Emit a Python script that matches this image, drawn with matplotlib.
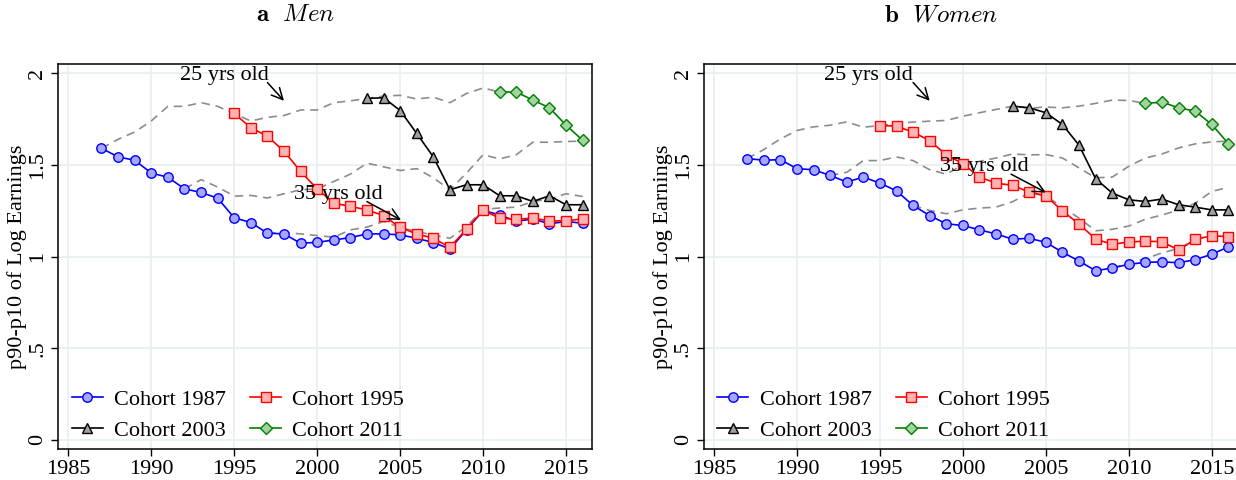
import matplotlib
matplotlib.use("Agg")
import matplotlib.pyplot as plt
import numpy as np

plt.rcParams['font.family'] = ['Liberation Serif', 'DejaVu Serif']
plt.rcParams['mathtext.fontset'] = 'cm'

# ---- data ----
years_c87 = list(range(1987, 2017))
years_c95 = list(range(1995, 2017))
years_c03 = list(range(2003, 2017))
years_c11 = list(range(2011, 2017))
years_a25 = list(range(1987, 2012))
years_a30 = list(range(1992, 2017))
years_a35 = list(range(1997, 2017))
years_w_extra = list(range(2009, 2015))

men_c87 = [1.591, 1.544, 1.526, 1.456, 1.433, 1.370, 1.350, 1.319, 1.212, 1.186,
           1.128, 1.124, 1.073, 1.078, 1.091, 1.104, 1.124, 1.124, 1.119, 1.100,
           1.077, 1.042, 1.146, 1.252, 1.228, 1.192, 1.206, 1.179, 1.192, 1.182]
men_c95 = [1.781, 1.703, 1.657, 1.575, 1.465, 1.369, 1.292, 1.274, 1.255, 1.224,
           1.159, 1.124, 1.100, 1.051, 1.150, 1.252, 1.210, 1.204, 1.210, 1.195,
           1.195, 1.206]
men_c03 = [1.863, 1.867, 1.797, 1.672, 1.544, 1.365, 1.392, 1.392, 1.332, 1.332,
           1.301, 1.332, 1.283, 1.283]
men_c11 = [1.898, 1.898, 1.854, 1.812, 1.717, 1.635]
men_a25 = [1.591, 1.64, 1.68, 1.74, 1.82, 1.82, 1.84, 1.82, 1.78, 1.74, 1.76, 1.77,
           1.80, 1.80, 1.84, 1.85, 1.863, 1.876, 1.88, 1.86, 1.87, 1.84, 1.89, 1.92,
           1.898]
men_a30 = [1.370, 1.42, 1.38, 1.33, 1.334, 1.32, 1.343, 1.365, 1.369, 1.41, 1.45,
           1.51, 1.49, 1.47, 1.48, 1.43, 1.365, 1.456, 1.556, 1.533, 1.556, 1.624,
           1.624, 1.628, 1.63]
men_a35 = [1.128, 1.131, 1.124, 1.115, 1.106, 1.146, 1.161, 1.192, 1.159, 1.137,
           1.117, 1.100, 1.164, 1.259, 1.265, 1.27, 1.30, 1.314, 1.343, 1.328]

women_c87 = [1.535, 1.526, 1.529, 1.480, 1.474, 1.443, 1.407, 1.434, 1.401, 1.359,
             1.279, 1.224, 1.179, 1.170, 1.146, 1.124, 1.095, 1.100, 1.078, 1.024,
             0.976, 0.923, 0.938, 0.958, 0.969, 0.971, 0.967, 0.983, 1.013, 1.053]
women_c95 = [1.715, 1.712, 1.679, 1.633, 1.555, 1.507, 1.434, 1.401, 1.389, 1.352,
             1.332, 1.249, 1.178, 1.096, 1.067, 1.080, 1.084, 1.082, 1.036, 1.094,
             1.114, 1.109]
women_c03 = [1.821, 1.812, 1.785, 1.721, 1.608, 1.425, 1.347, 1.310, 1.301, 1.314,
             1.283, 1.270, 1.255, 1.255]
women_c11 = [1.836, 1.843, 1.812, 1.794, 1.721, 1.617]
women_a25 = [1.535, 1.584, 1.642, 1.688, 1.708, 1.717, 1.735, 1.706, 1.715, 1.726,
             1.734, 1.739, 1.743, 1.766, 1.785, 1.803, 1.821, 1.81, 1.816, 1.812,
             1.821, 1.836, 1.854, 1.852, 1.836]
women_a30 = [1.443, 1.46, 1.524, 1.524, 1.544, 1.524, 1.474, 1.45, 1.50, 1.52,
             1.538, 1.56, 1.555, 1.557, 1.538, 1.484, 1.43, 1.434, 1.493, 1.538,
             1.56, 1.593, 1.615, 1.626, 1.63]
women_a35 = [1.279, 1.252, 1.234, 1.255, 1.265, 1.27, 1.30, 1.347, 1.332, 1.27,
             1.21, 1.141, 1.149, 1.167, 1.204, 1.227, 1.254, 1.291, 1.356, 1.378]
women_extra = [0.938, 0.965, 0.99, 1.02, 1.045, 1.09]

cohort_labels = ['Cohort 1987', 'Cohort 1995', 'Cohort 2003', 'Cohort 2011']

fig = plt.figure(figsize=(12.36, 4.8), dpi=100)
ax_m = fig.add_axes([0.0472, 0.0640, 0.4316, 0.8027])
ax_w = fig.add_axes([0.5696, 0.0640, 0.4316, 0.8027])

styles = [dict(color='#0000ff', marker='o', mfc='#a6a6ff', markersize=6.8),
          dict(color='#ff0000', marker='s', mfc='#ffb3b3', markersize=6.8),
          dict(color='#000000', marker='^', mfc='#a0a0a0', markersize=7.8),
          dict(color='#008000', marker='D', mfc='#a3d3a3', markersize=6.3)]

FS = 16


def draw_panel(ax, cohorts, ages, notes):
    # dashed age profiles first, below the cohorts
    for xs, ys in ages:
        ax.plot(xs, ys, color='#8c8c8c', lw=1.2, ls=(0, (5, 3.5)), zorder=2)
    years = [years_c87, years_c95, years_c03, years_c11]
    handles = []
    for xs, ys, st, lab in zip(years, cohorts, styles, cohort_labels):
        kw = dict(lw=1.2, mew=1.0, mec=st['color'])
        kw.update(st)
        h, = ax.plot(xs, ys, label=lab, zorder=3, **kw)
        handles.append(h)

    ax.set_xlim(1984.4, 2016.55)
    ax.set_ylim(-0.051, 2.051)
    ax.set_xticks(range(1985, 2016, 5))
    ax.set_yticks([0, 0.5, 1, 1.5, 2])
    ax.set_yticklabels(['0', '.5', '1', '1.5', '2'], rotation=90, va='center')
    ax.tick_params(direction='out', length=5, width=1, labelsize=FS, pad=3)
    ax.grid(True, color='#e6eff1', lw=1.2, zorder=0)
    ax.set_axisbelow(True)
    for s in ax.spines.values():
        s.set_linewidth(1.1)
    ax.set_ylabel('p90-p10 of Log Earnings', fontsize=FS, labelpad=1)

    for txt, xy_text, xy_tail, xy_head in notes:
        ax.text(xy_text[0], xy_text[1], txt, fontsize=FS, ha='center', va='center')
        ax.annotate('', xy=xy_head, xytext=xy_tail,
                    arrowprops=dict(arrowstyle='->', color='black', lw=1.1,
                                    mutation_scale=20, shrinkA=0, shrinkB=0))

    # row-wise order: 1987 1995 / 2003 2011
    order = [0, 2, 1, 3]
    ax.legend([handles[i] for i in order], [cohort_labels[i] for i in order],
              loc='lower left', bbox_to_anchor=(0.0, -0.012), ncol=2, frameon=False,
              fontsize=FS, handlelength=1.4, handletextpad=0.5, columnspacing=1.1,
              labelspacing=0.45, borderaxespad=0.2)


draw_panel(ax_m, [men_c87, men_c95, men_c03, men_c11],
           [(years_a25, men_a25), (years_a30, men_a30), (years_a35, men_a35)],
           [('25 yrs old', (1994.4, 1.99), (1997.0, 1.95), (1998.0, 1.85)),
            ('35 yrs old', (2001.3, 1.34), (2003.0, 1.30), (2005.05, 1.20))])

draw_panel(ax_w, [women_c87, women_c95, women_c03, women_c11],
           [(years_a25, women_a25), (years_a30, women_a30), (years_a35, women_a35),
            (years_w_extra, women_extra)],
           [('25 yrs old', (1994.3, 1.99), (1997.0, 1.95), (1998.0, 1.85)),
            ('35 yrs old', (2001.3, 1.49), (2002.9, 1.45), (2005.0, 1.35))])

fig.text(296 / 1236, 1 - 15 / 480, r'$\mathbf{a}\ \ \mathit{Men}$', fontsize=18,
         ha='center', va='center')
fig.text(941 / 1236, 1 - 15 / 480, r'$\mathbf{b}\ \ \mathit{Women}$', fontsize=18,
         ha='center', va='center')

fig.savefig('out.png', dpi=100)
